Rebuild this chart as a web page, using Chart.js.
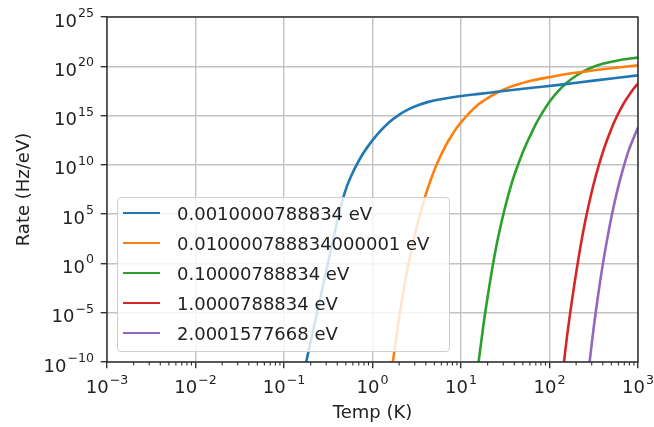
<!DOCTYPE html>
<html>
<head>
<meta charset="utf-8">
<script src="https://cdn.jsdelivr.net/npm/chart.js@4.4.1/dist/chart.umd.min.js"></script>
<style>
  html, body { margin: 0; padding: 0; background: #fff; }
  #wrap { position: relative; width: 654px; height: 427px; }
  #legend {
    position: absolute; left: 117px; top: 197px; width: 333px; height: 155px;
    box-sizing: border-box; border: 1.4px solid #cfcfcf; border-radius: 4px;
    background: rgba(255, 255, 255, 0.8);
    font-family: "DejaVu Sans"; font-size: 18px; color: #222;
  }
  .item { position: absolute; left: 5px; height: 30px; display: flex; align-items: center; white-space: nowrap; }
  .swatch { width: 37px; height: 0; border-top: 2.7px solid; margin-right: 17px; }
</style>
</head>
<body>
<div id="wrap">
  <canvas id="chart" width="654" height="427"></canvas>
  <div id="legend"></div>
</div>
<script>
// values (temperature in K, rate in Hz/eV)
const seriesLabels = [
  "0.0010000788834 eV",
  "0.010000788834000001 eV",
  "0.10000788834 eV",
  "1.0000788834 eV",
  "2.0001577668 eV"
];
const seriesColors = ["#1f77b4", "#ff7f0e", "#2ca02c", "#d62728", "#9467bd"];

const blueTemp = [0.178, 0.266, 0.403, 0.483, 0.565, 0.713, 0.867, 1.14, 1.51, 2.01, 2.61, 3.39, 4.39, 5.69, 9.57, 16.1, 27.0, 60, 128.5, 316, 1000];
const blueRate = [1e-10, 1.26e-3, 2.6e4, 1.3e7, 5.5e8, 3.5e10, 5.6e11, 1.3e13, 1.8e14, 1.26e15, 4.8e15, 1.26e16, 2.6e16, 4.3e16, 9.1e16, 1.6e17, 2.75e17, 6.2e17, 1.3e18, 3.5e18, 1.2e19];

const orangeTemp = [1.58, 2.0, 2.24, 2.51, 2.82, 3.16, 3.98, 4.47, 5.01, 5.62, 6.31, 7.08, 7.94, 8.91, 10, 12.6, 15.8, 20, 25.1, 31.6, 39.8, 63.1, 100, 178, 316, 562, 1000];
const orangeRate = [1e-12, 3.2e-6, 1.6e-3, 0.44, 60, 5.1e3, 8.7e6, 1.95e8, 3e9, 3.5e10, 3e11, 2.1e12, 1.15e13, 5.4e13, 2e14, 2.1e15, 1.4e16, 6e16, 1.95e17, 5.1e17, 1.12e18, 3.6e18, 7.9e18, 1.95e19, 3.9e19, 7.2e19, 1.26e20];

const greenTemp = [15.1, 17.8, 20.0, 22.4, 25.1, 28.2, 31.6, 35.5, 39.8, 44.7, 50.1, 56.2, 63.1, 70.8, 79.4, 100, 126, 158, 200, 251, 316, 398, 631, 1000];
const greenRate = [4e-12, 3.5e-7, 4.1e-4, 0.22, 60, 7.9e3, 5.6e5, 2.8e7, 7.9e8, 1.4e10, 2e11, 2.2e12, 2e13, 1.6e14, 1e15, 2.5e16, 3.2e17, 2.3e18, 1.1e19, 3.7e19, 9.1e19, 1.8e20, 4.4e20, 7.6e20];

const redTemp = [141, 158, 178, 200, 224, 251, 282, 316, 355, 398, 447, 501, 562, 631, 708, 794, 891, 1000];
const redRate = [7e-12, 4.5e-8, 1.07e-4, 0.11, 52, 1.26e4, 1.6e6, 1.2e8, 5.6e9, 1.6e11, 3.3e12, 4.7e13, 5e14, 4e15, 2.5e16, 1.23e17, 5.2e17, 1.8e18];

const purpleTemp = [275, 316, 355, 398, 447, 501, 562, 631, 708, 794, 891, 1000];
const purpleRate = [8.7e-12, 3.2e-7, 6.8e-4, 0.6, 245, 5.2e4, 5.8e6, 3.8e8, 1.5e10, 3.9e11, 5.2e12, 6.3e13];

const xTicks = [1e-3, 1e-2, 1e-1, 1, 1e1, 1e2, 1e3];
const xTickExps = ["\u22123", "\u22122", "\u22121", "0", "1", "2", "3"];
const yTicks = [1e-10, 1e-5, 1, 1e5, 1e10, 1e15, 1e20, 1e25];
const yTickExps = ["\u221210", "\u22125", "0", "5", "10", "15", "20", "25"];

const xMinor = [];
for (let d = 1e-3; d < 1e3; d *= 10) {
  for (let k = 2; k <= 9; k++) xMinor.push(d * k);
}

const temps = [blueTemp, orangeTemp, greenTemp, redTemp, purpleTemp];
const rates = [blueRate, orangeRate, greenRate, redRate, purpleRate];

const FONT = '"DejaVu Sans"';
const TEXT = "#222";

function drawPow(ctx, exp, px, base, align) {
  ctx.font = "18px " + FONT;
  const w1 = ctx.measureText("10").width;
  ctx.font = "12.6px " + FONT;
  const w2 = ctx.measureText(exp).width;
  const w = w1 + 1 + w2;
  const left = align === "center" ? px - w / 2 : px - w;
  ctx.textAlign = "left";
  ctx.textBaseline = "alphabetic";
  ctx.font = "18px " + FONT;
  ctx.fillText("10", left, base);
  ctx.font = "12.6px " + FONT;
  ctx.fillText(exp, left + w1 + 1, base - 9.5);
}

const axisDecor = {
  id: "axisDecor",
  afterDatasetsDraw(chart) {
    const { ctx, chartArea: a, scales: { x, y } } = chart;
    ctx.save();
    ctx.strokeStyle = "#333";
    ctx.lineWidth = 1.1;
    ctx.beginPath();
    xMinor.forEach(v => {
      const px = x.getPixelForValue(v);
      ctx.moveTo(px, a.bottom);
      ctx.lineTo(px, a.bottom + 3.6);
    });
    ctx.stroke();

    ctx.strokeStyle = "#262626";
    ctx.lineWidth = 1.4;
    ctx.strokeRect(a.left, a.top, a.right - a.left, a.bottom - a.top);

    ctx.fillStyle = TEXT;
    xTicks.forEach((v, i) => drawPow(ctx, xTickExps[i], x.getPixelForValue(v), 393, "center"));
    yTicks.forEach((v, i) => drawPow(ctx, yTickExps[i], 94, y.getPixelForValue(v) + 9.5, "right"));
    ctx.restore();
  }
};

const gridOpts = {
  color: "#c2c2c2",
  lineWidth: 1.4,
  tickLength: 6.3,
  tickColor: "#333",
  tickWidth: 1.4
};

new Chart(document.getElementById("chart"), {
  type: "line",
  data: {
    datasets: seriesLabels.map((label, i) => ({
      label: label,
      data: temps[i].map((t, j) => ({ x: t, y: rates[i][j] })),
      borderColor: seriesColors[i],
      backgroundColor: seriesColors[i],
      borderWidth: 2.6,
      pointRadius: 0,
      fill: false,
      tension: 0.3
    }))
  },
  options: {
    responsive: false,
    devicePixelRatio: 1,
    animation: false,
    layout: { padding: { top: 17, right: 16, left: 0, bottom: 0 } },
    plugins: { legend: { display: false }, tooltip: { enabled: false } },
    scales: {
      x: {
        type: "logarithmic",
        min: 1e-3,
        max: 1e3,
        afterBuildTicks: s => { s.ticks = xTicks.map(v => ({ value: v })); },
        afterFit: s => { s.height = 65; },
        grid: gridOpts,
        border: { display: false },
        ticks: { display: false },
        title: {
          display: true, text: "Temp (K)", color: TEXT,
          font: { family: "DejaVu Sans", size: 18 },
          padding: { top: 0, bottom: 2.5 }
        }
      },
      y: {
        type: "logarithmic",
        min: 1e-10,
        max: 1e25,
        afterBuildTicks: s => { s.ticks = yTicks.map(v => ({ value: v })); },
        afterFit: s => { s.width = 107; },
        grid: gridOpts,
        border: { display: false },
        ticks: { display: false },
        title: {
          display: true, text: "Rate (Hz/eV)", color: TEXT,
          font: { family: "DejaVu Sans", size: 18 },
          padding: { top: 14, bottom: 0 }
        }
      }
    }
  },
  plugins: [axisDecor]
});

const legend = document.getElementById("legend");
seriesLabels.forEach((label, i) => {
  const item = document.createElement("div");
  item.className = "item";
  item.style.top = (i * 30) + "px";
  const sw = document.createElement("span");
  sw.className = "swatch";
  sw.style.borderTopColor = seriesColors[i];
  const txt = document.createElement("span");
  txt.textContent = label;
  item.appendChild(sw);
  item.appendChild(txt);
  legend.appendChild(item);
});
</script>
</body>
</html>
